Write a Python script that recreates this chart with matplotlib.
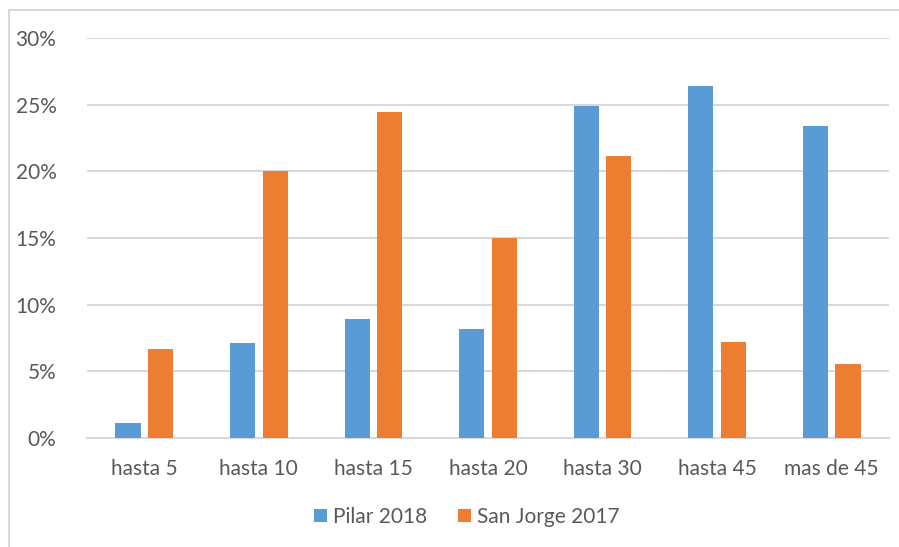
import matplotlib
matplotlib.use("Agg")
import matplotlib.pyplot as plt
import numpy as np
from matplotlib.patches import Rectangle

categories = ["hasta 5", "hasta 10", "hasta 15", "hasta 20", "hasta 30", "hasta 45", "mas de 45"]
pilar_2018 = [1.1, 7.1, 8.9, 8.2, 24.9, 26.4, 23.4]
san_jorge_2017 = [6.7, 20.0, 24.45, 15.0, 21.15, 7.2, 5.55]
series_names = ["Pilar 2018", "San Jorge 2017"]
yticks = [0, 5, 10, 15, 20, 25, 30]

W, H = 899, 547
fig = plt.figure(figsize=(W / 100, H / 100), dpi=100)
plt.rcParams['font.family'] = ['Lato', 'DejaVu Sans']

# outer chart border
fig.patches.append(Rectangle((9 / W, -0.1), 1.2, 1 - 10 / H + 0.1, transform=fig.transFigure,
                             fill=False, edgecolor="#d9d9d9", linewidth=1.5))

left, right = 87, 889
top, bottom = 38, 438
ax = fig.add_axes([left / W, 1 - bottom / H, (right - left) / W, (bottom - top) / H])

x = np.arange(len(categories))
bw = 0.22
blue = "#5b9bd5"
orange = "#ed7d31"
ax.bar(x - 0.142, pilar_2018, width=bw, color=blue, label=series_names[0], zorder=3)
ax.bar(x + 0.142, san_jorge_2017, width=bw, color=orange, label=series_names[1], zorder=3)

ax.set_xlim(-0.5, len(categories) - 0.5)
ax.set_ylim(0, 30)
ax.set_yticks(yticks)
ax.set_yticklabels([f"{v}%" for v in yticks])
ax.set_xticks(x)
ax.set_xticklabels(categories)
ax.grid(axis="y", color="#d9d9d9", linewidth=1.5, zorder=0)
for s in ["top", "right", "left"]:
    ax.spines[s].set_visible(False)
ax.spines["bottom"].set_color("#d9d9d9")
ax.spines["bottom"].set_linewidth(1.5)
ax.tick_params(axis="both", length=0, labelsize=15, colors="#595959")
ax.tick_params(axis="y", pad=22)
ax.tick_params(axis="x", pad=15)
for t in ax.get_yticklabels():
    t.set_horizontalalignment("right")

leg = fig.legend(loc="center", bbox_to_anchor=(467 / W, 1 - 517 / H), ncol=2, frameon=False,
                 fontsize=15, handlelength=0.6, handleheight=0.6, handletextpad=0.3,
                 columnspacing=1.5)
for t in leg.get_texts():
    t.set_color("#595959")

fig.savefig("out.png", dpi=100)
